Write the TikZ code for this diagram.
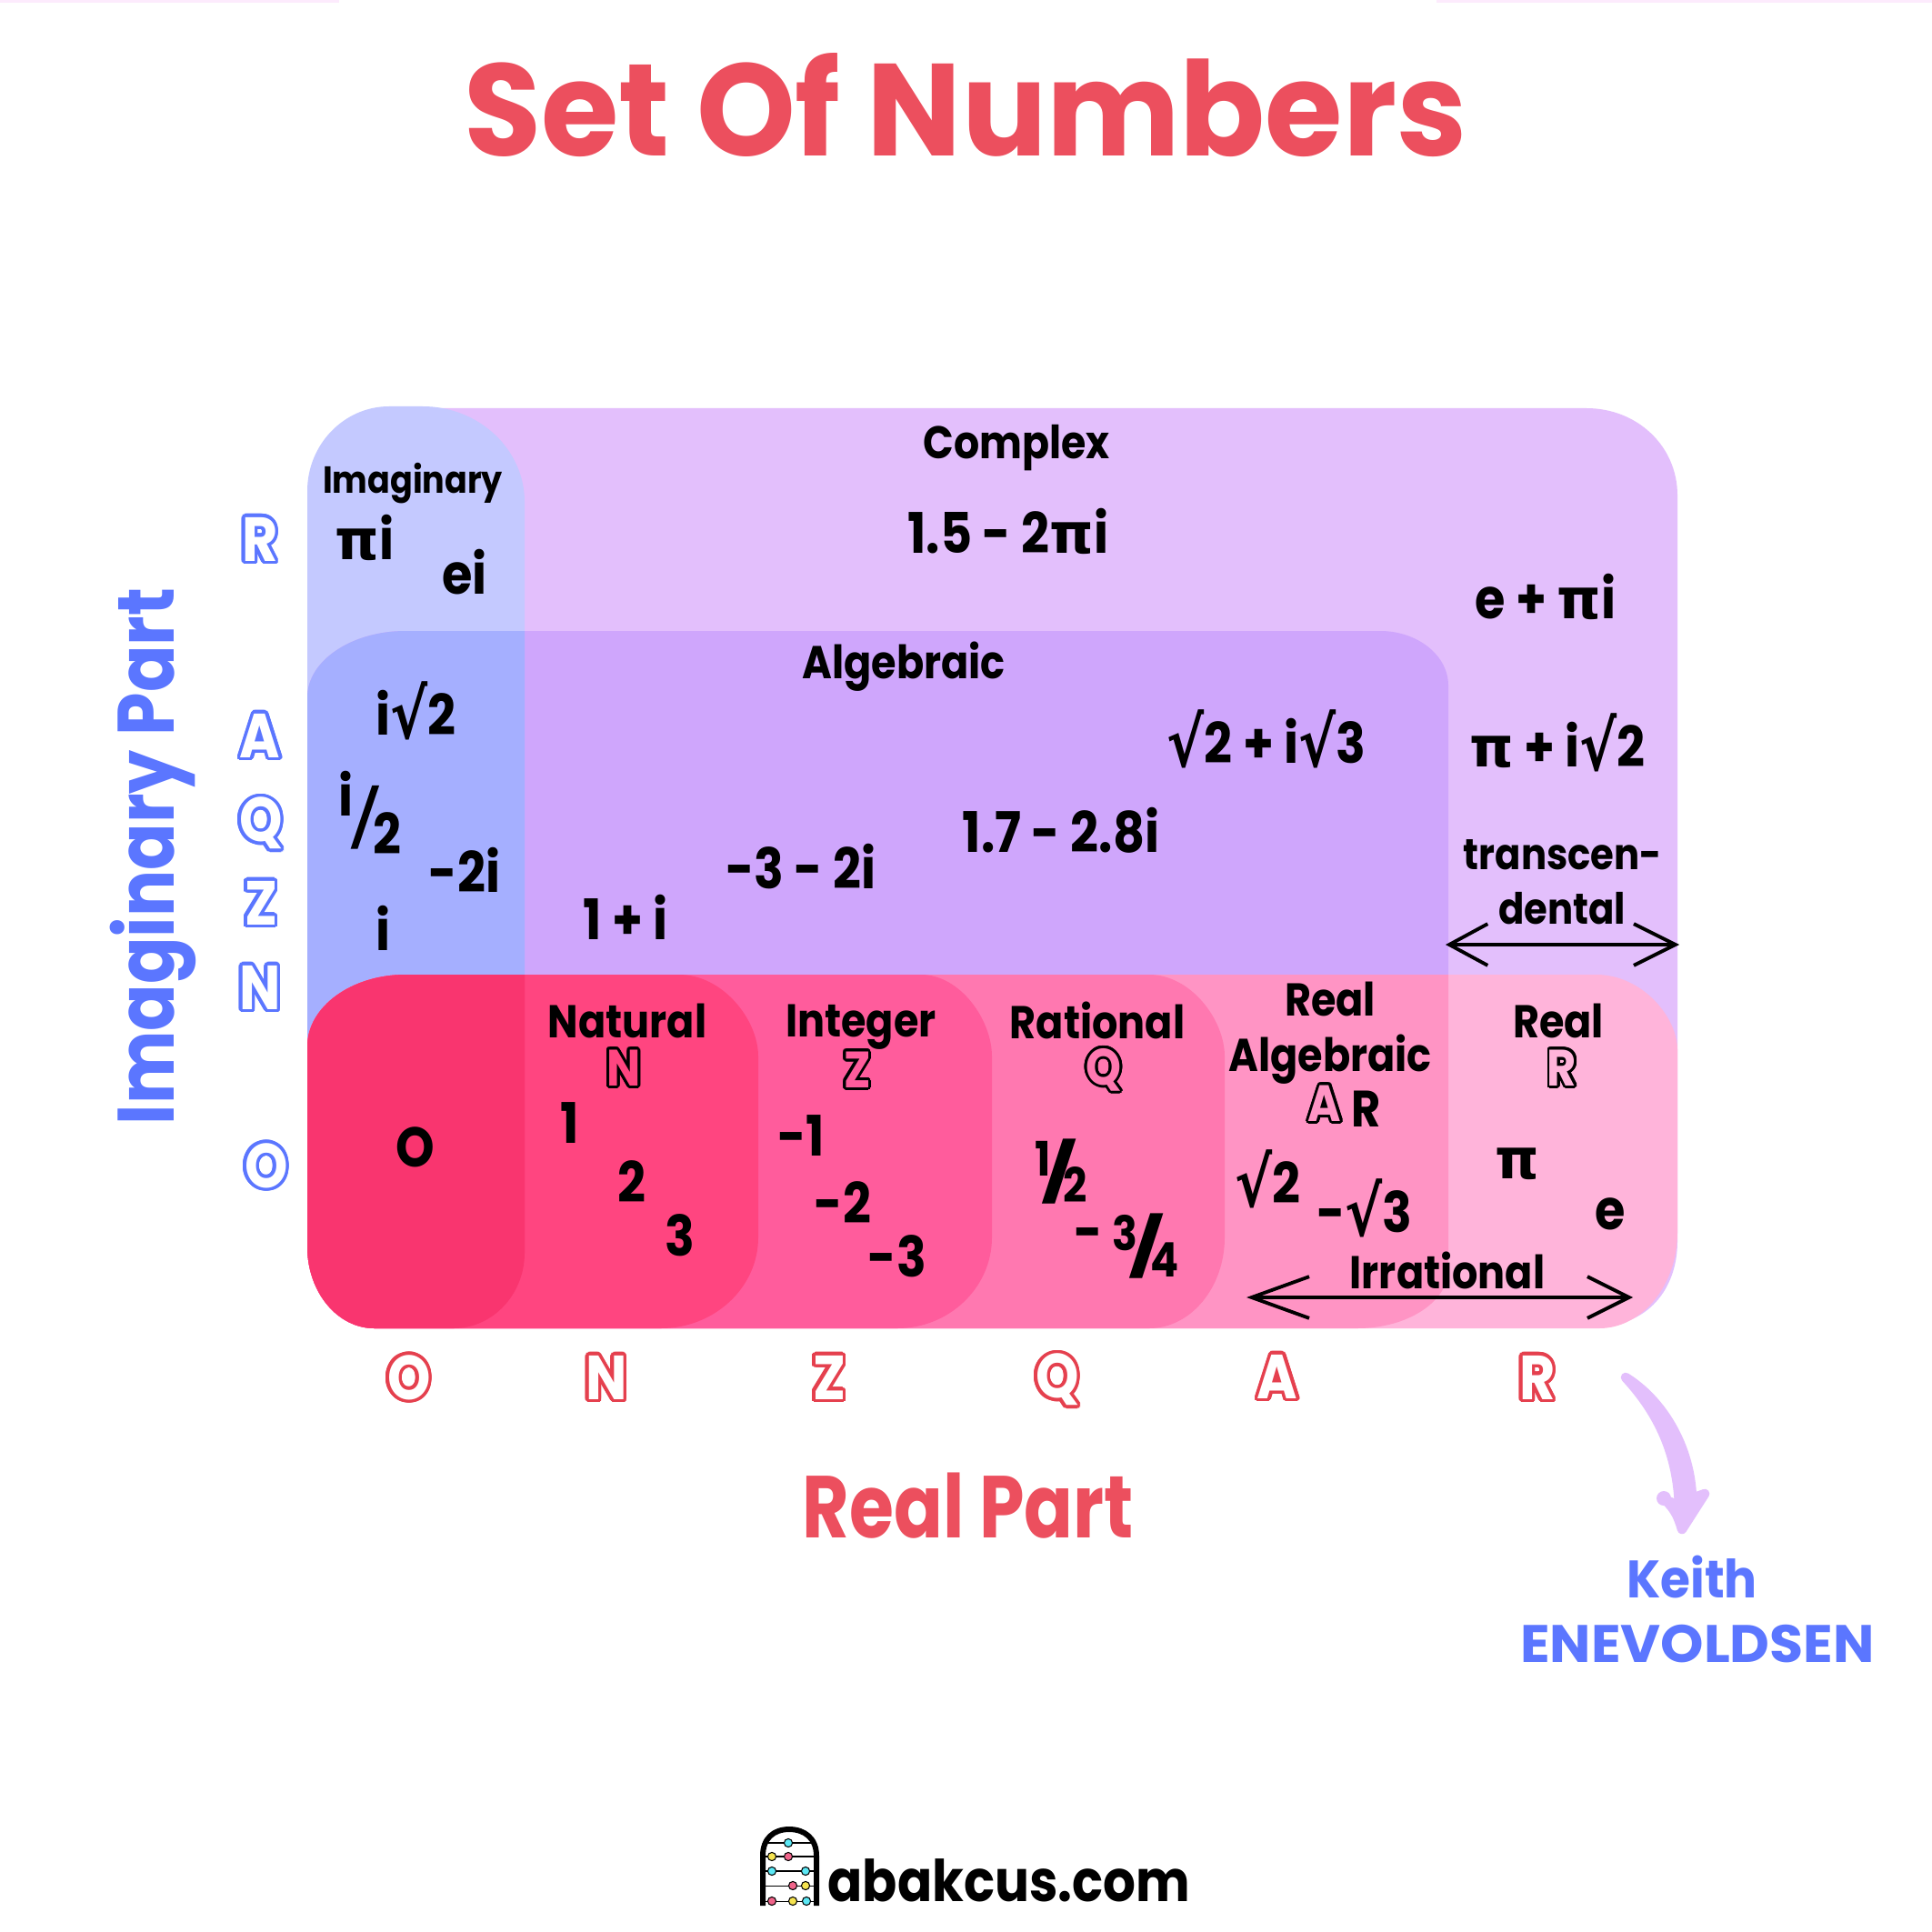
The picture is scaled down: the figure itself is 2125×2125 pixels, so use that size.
\documentclass[tikz,border=0pt]{standalone}
\usepackage{fontspec}
\usepackage[copies]{contour}
\usetikzlibrary{arrows.meta}
\newfontfamily\futura[FakeStretch=0.88]{Poppins}
\newfontfamily\titlefont[FakeStretch=0.96]{Poppins}
\newfontfamily\partfont[FakeStretch=0.82]{Poppins}
\newfontfamily\imagfont[FakeStretch=0.865]{Poppins}
\newfontfamily\keithfont[FakeStretch=0.92]{Poppins}
\newfontfamily\enevfont[FakeStretch=1.04]{Poppins}
\newfontfamily\abakfont[FakeStretch=0.89]{Poppins}
\newfontfamily\symfont{DejaVu Sans}
\definecolor{titlered}{HTML}{EC4F5E}
\definecolor{axisred}{HTML}{E5404E}
\definecolor{axisblue}{HTML}{5B76FF}
\definecolor{complexfill}{HTML}{E3BFFC}
\definecolor{imagfill}{HTML}{C4C9FF}
\definecolor{algfill}{HTML}{CFA6FC}
\definecolor{algimag}{HTML}{A5AFFF}
\definecolor{zerofill}{HTML}{F9356F}
\definecolor{natfill}{HTML}{FF4580}
\definecolor{intfill}{HTML}{FF5C9C}
\definecolor{ratfill}{HTML}{FF78B0}
\definecolor{realalg}{HTML}{FF94C4}
\definecolor{realfill}{HTML}{FFB4DA}
\definecolor{stripfill}{HTML}{FDEBFD}
\definecolor{beadcyan}{HTML}{5CE8F5}
\definecolor{beadyellow}{HTML}{F5E350}
\definecolor{beadpink}{HTML}{F0648A}
\contournumber{24}
\newcommand{\rt}{{\symfont\bfseries\raisebox{-.06em}{\scalebox{1}[1.22]{√}}}}
\newcommand{\pii}{{\symfont\bfseries π}}
\newcommand{\hollow}[3]{\contour{#1}{\textcolor{#2}{#3}}}
\newcommand{\frc}[2]{\raisebox{.34em}{#1}\kern-.12em\raisebox{-.08em}{\scalebox{1.6}[1.02]{\mdseries/}}\kern-.2em\raisebox{-.34em}{#2}}
\newcommand{\smallfrc}[2]{\raisebox{.24em}{\scalebox{.85}{#1}}\kern-.17em\raisebox{-.08em}{\scalebox{1.6}[1.02]{/}}\kern-.24em\raisebox{-.24em}{\scalebox{.85}{#2}}}
% color, right x, then rx and ry of the top and bottom right corners
\newcommand{\rowblob}[6]{\fill[#1] (338,1151) .. controls (338,1107) and (387,1072) .. (446,1072) -- (#2-#3,1072) .. controls (#2-.45*#3,1072) and (#2,1072+.55*#4) .. (#2,1072+#4) -- (#2,1461-#6) .. controls (#2,1461-.45*#6) and (#2-.45*#5,1461) .. (#2-#5,1461) -- (412,1461) .. controls (371,1461) and (338,1421) .. (338,1371) -- cycle;}
% color, top y, right x, then rx and ry of the top left and top right corners
\newcommand{\topblob}[7]{\fill[#1] (338,#2+#5) .. controls (338,#2+.45*#5) and (338+.45*#4,#2) .. (338+#4,#2) -- (#3-#6,#2) .. controls (#3-.45*#6,#2) and (#3,#2+.45*#7) .. (#3,#2+#7) -- (#3,1200) -- (338,1200) -- cycle;}
\tikzset{
    numlbl/.style={font=\futura\bfseries\fontsize{17.5}{20}\selectfont,inner sep=0pt,text=black},
    setlbl/.style={font=\futura\bfseries\fontsize{14.4}{17}\selectfont,inner sep=0pt,text=black,align=center},
    blackset/.style={font=\futura\bfseries\fontsize{16}{20}\selectfont,inner sep=0pt},
    axisletter/.style={font=\futura\bfseries\fontsize{19.5}{22}\selectfont,inner sep=0pt},
    dblarrow/.style={line width=1.1pt,black,{Straight Barb[length=#1,width=13pt,line width=1.1pt]}-{Straight Barb[length=13pt,width=13pt,line width=1.1pt]}},
    rowbead/.style={circle,draw=black,line width=.3pt,minimum size=2.6pt,inner sep=0pt}
}
\begin{document}
\begin{tikzpicture}[x=0.01cm,y=-0.01cm]
\useasboundingbox (0,0) rectangle (2125,2125);
\fill[white] (0,0) rectangle (2125,2125);
\fill[stripfill] (0,0) rectangle (373,3);
\fill[stripfill] (1580,0) rectangle (2125,3);

\fill[complexfill] (440,600) -- (440,449) -- (1745,449) .. controls (1800,449) and (1845,490) .. (1845,545) -- (1845,1365) .. controls (1845,1420) and (1810,1458) .. (1760,1458) -- (440,1458) -- cycle;
\topblob{imagfill}{447}{577}{90}{93}{112}{105}
\topblob{algfill}{694}{1593}{108}{73}{75}{60}
\topblob{algimag}{694}{577}{108}{73}{0}{0}

\rowblob{realfill}{1845}{89}{83}{86}{106}
\rowblob{realalg}{1593}{0}{0}{100}{65}
\rowblob{ratfill}{1347}{83}{90}{83}{100}
\rowblob{intfill}{1091}{78}{90}{104}{100}
\rowblob{natfill}{834}{87}{90}{107}{100}
\rowblob{zerofill}{577}{0}{0}{78}{83}

\node[font=\titlefont\bfseries\fontsize{41}{46}\selectfont,text=titlered,anchor=base,inner sep=0pt] (title) at (1062,172) {Set Of Numbers};
\node[font=\partfont\bfseries\fontsize{27.5}{30}\selectfont,text=titlered,anchor=base,inner sep=0pt] (realpart) at (1065,1691) {Real Part};
\node[font=\imagfont\bfseries\fontsize{25}{28}\selectfont,text=axisblue,anchor=base,inner sep=0pt,rotate=90] (imagpart) at (191,942) {Imaginary Part};

\contourlength{.8pt}
\node[blackset] (setN) at (686,1176) {\hollow{black}{natfill}{N}};
\node[blackset] (setZ) at (943,1178) {\hollow{black}{intfill}{Z}};
\node[blackset] (setQ) at (1214,1178) {\hollow{black}{ratfill}{Q}};
\node[blackset] (setA) at (1457,1215) {\hollow{black}{realalg}{A}};
\node[setlbl,font=\futura\bfseries\fontsize{16}{20}\selectfont] (setAR) at (1503,1220) {R};
\node[blackset] (setR) at (1718,1176) {\hollow{black}{realfill}{R}};

\node[setlbl,font=\futura\bfseries\fontsize{14.3}{16}\selectfont] (complex) at (1118,493) {Complex};
\node[setlbl,font=\futura\bfseries\fontsize{11.8}{14}\selectfont] (imaginary) at (454,532) {Imaginary};
\node[setlbl] (algebraic) at (994,733) {Algebraic};
\node[setlbl,font=\futura\bfseries\fontsize{13.5}{16}\selectfont] (transcen) at (1719,940) {transcen-};
\node[setlbl,font=\futura\bfseries\fontsize{13.5}{16}\selectfont] (dental) at (1718,999) {dental};
\node[setlbl] (natural) at (690,1123) {Natural};
\node[setlbl] (integer) at (947,1130) {Integer};
\node[setlbl] (rational) at (1207,1122) {Rational};
\node[setlbl] (realA) at (1463,1099) {Real};
\node[setlbl] (algebraicB) at (1463,1165) {Algebraic};
\node[setlbl] (realB) at (1714,1123) {Real};
\node[setlbl] (irrational) at (1592,1397) {Irrational};

\node[numlbl] (pi1) at (401,591) {\pii i};
\node[numlbl] (ei) at (511,629) {ei};
\node[numlbl] (n15) at (1109,584) {1.5 - 2\pii i};
\node[numlbl] (epi) at (1700,656) {e + \pii i};
\node[numlbl] (r2i3) at (1393,813) {\rt 2 + i\rt 3};
\node[numlbl] (pii2) at (1713,817) {\pii{} + i\rt 2};
\node[numlbl] (n17) at (1167,913) {1.7 - 2.8i};
\node[numlbl] (m3) at (881,953) {-3 - 2i};
\node[numlbl] (oni) at (688,1009) {1 + i};
\node[numlbl] (ir2) at (457,782) {i\rt 2};
\node[numlbl] (ihalf) at (407,894) {\frc{i}{2}};
\node[numlbl] (m2i) at (511,957) {-2i};
\node[numlbl] (ionly) at (421,1021) {i};
\node[numlbl] (zero) at (457,1262) {O};
\node[numlbl] (one) at (627,1235) {1};
\node[numlbl] (two) at (695,1300) {2};
\node[numlbl] (three) at (748,1359) {3};
\node[numlbl] (mone) at (881,1249) {-1};
\node[numlbl] (mtwo) at (927,1323) {-2};
\node[numlbl] (mthree) at (987,1382) {-3};
\node[numlbl] (half) at (1167,1289) {\smallfrc{1}{2}};
\node[numlbl] (mtq) at (1239,1371) {\raisebox{.22em}{-} \smallfrc{3}{4}};
\node[numlbl] (r2) at (1394,1297) {\rt 2};
\node[numlbl] (mr3) at (1501,1329) {-\rt 3};
\node[numlbl] (piB) at (1669,1280) {\pii};
\node[numlbl] (eB) at (1771,1335) {e};

\coordinate (irrL) at (1371,1427);
\coordinate (irrR) at (1796,1427);
\coordinate (transL) at (1590,1039);
\coordinate (transR) at (1847,1039);
\draw[dblarrow=18pt] (irrL) -- (irrR);
\draw[dblarrow=12pt] (transL) -- (transR);

\contourlength{1pt}
\foreach \nm/\tx/\xx/\yy in {axO/O/450/1517,axN/N/667/1517,axZ/Z/912/1517,axQ/Q/1163/1519,axA/A/1405/1516,axR/R/1691/1517}
    \node[axisletter] (\nm) at (\xx,\yy) {\hollow{axisred}{white}{\tx}};
\foreach \nm/\tx/\yy/\xx in {ayR/R/595/286,ayA/A/811/286,ayQ/Q/907/287,ayZ/Z/995/287,ayN/N/1088/286,ayO/O/1284/293}
    \node[axisletter] (\nm) at (\xx,\yy) {\hollow{axisblue}{white}{\tx}};

% pointer to the author
\filldraw[complexfill,line width=3pt,line join=round] (1788,1515) .. controls (1828,1540) and (1859,1590) .. (1861,1648) -- (1875,1643) -- (1850,1682) .. controls (1846,1668) and (1842,1660) .. (1832,1650) -- (1847,1656) .. controls (1845,1600) and (1825,1555) .. (1788,1515) -- cycle;
\fill[complexfill] (1830,1648) circle[radius=8];
\node[font=\keithfont\bfseries\fontsize{16.5}{20}\selectfont,text=axisblue,anchor=base,inner sep=0pt] (keith) at (1861,1757) {Keith};
\node[font=\enevfont\bfseries\fontsize{16.5}{20}\selectfont,text=axisblue,anchor=base,inner sep=0pt] (enevold) at (1867,1828) {ENEVOLDSEN};

% logo
\foreach \yy in {2027,2042,2058,2074,2091}
    \draw[black,line width=.3pt] (840,\yy) -- (897,\yy);
\foreach \xx/\yy/\cc in {867/2027/beadcyan,849/2042/beadyellow,867/2042/beadpink,849/2058/beadcyan,886/2058/beadcyan,872/2074/beadpink,886/2074/beadyellow,849/2091/beadpink,872/2091/beadyellow,887/2091/beadcyan}
    \node[rowbead,fill=\cc] at (\xx,\yy) {};
\draw[black,line width=1.7pt] (839,2096) -- (839,2041) .. controls (839,2022) and (851,2012) .. (868,2012) .. controls (885,2012) and (898,2022) .. (898,2041) -- (898,2096);
\node[font=\abakfont\bfseries\fontsize{18}{20}\selectfont,anchor=base,inner sep=0pt] (abakcus) at (1110,2091) {abakcus.com};
\end{tikzpicture}
\end{document}
